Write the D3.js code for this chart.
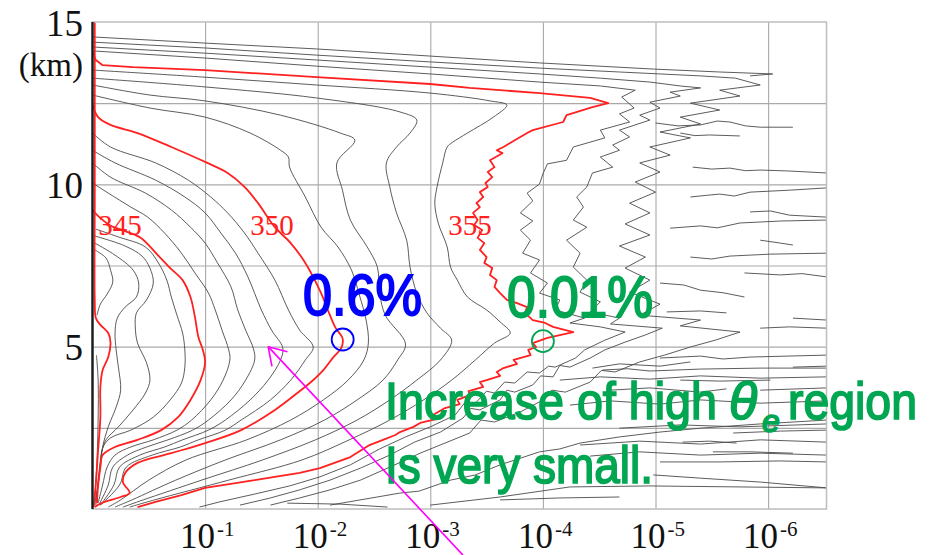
<!DOCTYPE html>
<html>
<head>
<meta charset="utf-8">
<script src="https://cdn.jsdelivr.net/npm/d3@7"></script>
<style>
  body { margin: 0; background: #fff; }
  svg { display: block; }
</style>
</head>
<body>
<svg id="chart" width="935" height="555"></svg>
<script>
// Contours of equivalent potential temperature (K) against cumulative frequency.
// Every point is [decades below 100 % (frequency = 10^-d), height in km].

const c340 = [[0.02,15],[0.02,9.5],[0.02,6.44],[0.03,5.88],[0.07,5.67],[0.14,5.42],[0.16,5.11],[0.14,4.68],[0.09,4.28],[0.07,3.76],[0.07,2.83],[0.05,1.82],[0.03,0.8],[0.01,0.06]];
const c339 = [[0.035,4.74],[0.05,3.97],[0.05,2.74],[0.04,1.51],[0.02,0.28]];
const c341 = [[0.02,7.98],[0.12,7.73],[0.16,7.36],[0.18,6.99],[0.13,6.62],[0.07,6.31],[0.04,5.97]];
const c342 = [[0.02,8.19],[0.2,7.82],[0.36,7.36],[0.41,6.96],[0.39,6.53],[0.29,6.22],[0.22,5.88],[0.2,5.42],[0.21,4.9],[0.23,4.37],[0.25,3.66],[0.21,3.14],[0.14,2.53],[0.09,1.91],[0.07,1.29],[0.05,0.74],[0.03,0.28]];
const c343 = [[0.02,8.41],[0.29,8.1],[0.44,7.79],[0.51,7.42],[0.54,6.96],[0.48,6.44],[0.39,6.04],[0.38,5.61],[0.40,5.11],[0.48,4.5],[0.51,3.97],[0.47,3.57],[0.36,3.05],[0.23,2.53],[0.12,2.13],[0.08,1.72],[0.06,1.2],[0.04,0.59],[0.02,0.12]];
const c344 = [[0.03,8.62],[0.23,8.38],[0.47,8.07],[0.58,7.61],[0.66,7.05],[0.70,6.53],[0.75,5.97],[0.80,5.42],[0.82,4.9],[0.82,4.37],[0.79,3.88],[0.69,3.36],[0.54,2.83],[0.34,2.43],[0.16,2.19],[0.09,1.88],[0.07,1.36],[0.05,0.74],[0.03,0.12]];
const c345 = [[0,9.21],[0.07,8.96],[0.17,8.71],[0.29,8.56],[0.43,8.35],[0.58,7.82],[0.69,7.42],[0.80,7.05],[0.87,6.53],[0.91,5.91],[0.94,5.3],[0.98,4.9],[1.0,4.53],[0.96,3.97],[0.87,3.36],[0.76,2.83],[0.61,2.43],[0.40,2.13],[0.20,1.91],[0.09,1.66],[0.07,1.29],[0.05,0.74],[0.04,0.18]];
const c346 = [[0,10.04],[0.14,9.73],[0.34,9.3],[0.49,8.99],[0.64,8.5],[0.79,7.88],[0.91,7.27],[1.03,6.65],[1.09,6.13],[1.15,5.51],[1.21,4.9],[1.22,4.59],[1.16,3.97],[1.05,3.36],[0.88,2.74],[0.75,2.43],[0.54,2.13],[0.34,1.91],[0.20,1.66],[0.13,1.29],[0.09,0.74],[0.05,0.18]];
const c347 = [[0,10.66],[0.16,10.22],[0.47,9.73],[0.70,9.21],[0.87,8.68],[1.0,8.19],[1.11,7.58],[1.23,6.84],[1.29,6.13],[1.36,5.51],[1.43,4.93],[1.44,4.59],[1.36,3.97],[1.23,3.36],[1.03,2.74],[0.89,2.43],[0.67,2.13],[0.48,1.91],[0.31,1.66],[0.18,1.29],[0.14,0.74],[0.06,0.15]];
const c348 = [[0,11.05],[0.2,10.66],[0.56,10.13],[0.82,9.61],[1.0,9.12],[1.14,8.5],[1.27,7.88],[1.38,7.15],[1.5,6.13],[1.59,5.51],[1.69,4.96],[1.67,4.59],[1.56,3.97],[1.40,3.36],[1.18,2.74],[1.03,2.43],[0.80,2.13],[0.64,1.91],[0.42,1.66],[0.24,1.29],[0.19,0.74],[0.07,0.12]];
const c349 = [[0,11.58],[0.16,11.15],[0.56,10.66],[0.85,10.13],[1.05,9.61],[1.2,9.12],[1.35,8.5],[1.47,7.88],[1.62,7.05],[1.74,6.13],[1.84,5.51],[1.96,4.99],[1.89,4.59],[1.76,3.97],[1.58,3.36],[1.32,2.74],[1.18,2.43],[0.94,2.13],[0.78,1.91],[0.53,1.66],[0.30,1.29],[0.24,0.74],[0.07,0.12]];
const c350 = [[0,12.44],[0.05,12.07],[0.16,11.83],[0.40,11.58],[0.70,11.15],[1.0,10.69],[1.2,10.35],[1.35,9.92],[1.47,9.42],[1.62,8.68],[1.76,8.19],[1.89,7.58],[2.03,6.65],[2.09,6.13],[2.16,5.57],[2.22,5.27],[2.21,4.96],[2.14,4.68],[2.05,4.28],[1.93,3.88],[1.85,3.66],[1.62,3.05],[1.32,2.43],[1.0,2.03],[0.70,1.72],[0.40,1.42],[0.29,1.11],[0.27,0.83],[0.33,0.49],[0.25,0.37],[0.08,0.18],[0.02,0.06]];
const c351 = [[0,12.75],[0.51,12.35],[1.0,12.07],[1.4,11.58],[1.67,11.05],[1.74,10.84],[1.75,10.53],[1.89,9.61],[2.03,8.68],[2.18,8.07],[2.3,7.36],[2.37,6.59],[2.43,5.82],[2.45,5.11],[2.41,4.59],[2.27,3.97],[2.05,3.36],[1.76,2.74],[1.37,2.13],[0.83,1.51],[0.50,0.89],[0.25,0.28],[0.14,0.06]];
const c352 = [[0,13.06],[0.51,12.75],[1.0,12.57],[1.67,12.13],[2.2,11.58],[2.33,11.36],[2.17,10.66],[2.22,9.82],[2.29,8.9],[2.44,8.07],[2.53,7.45],[2.55,6.65],[2.6,5.97],[2.78,5.08],[2.71,4.59],[2.58,3.97],[2.35,3.36],[2.06,2.74],[1.67,2.13],[1.18,1.51],[0.74,0.89],[0.35,0.28],[0.20,0.06]];
const c353 = [[0,13.27],[1.0,13.0],[1.99,12.66],[2.73,12.23],[2.88,11.98],[2.82,11.58],[2.70,11.15],[2.61,10.66],[2.64,9.92],[2.70,9.12],[2.79,8.28],[2.82,7.45],[2.88,6.65],[2.97,6.04],[3.09,5.57],[3.19,5.2],[3.09,4.59],[2.88,3.97],[2.64,3.36],[2.35,2.74],[1.98,2.13],[1.51,1.51],[0.97,0.89],[0.45,0.28],[0.27,0.06]];
const c354 = [[0,13.52],[1.0,13.3],[1.99,13.06],[3.0,12.81],[3.53,12.57],[3.68,12.44],[3.56,12.07],[3.33,11.58],[3.2,11.3],[3.15,11.15],[3.11,10.66],[3.06,9.92],[3.04,9.42],[3.07,8.81],[3.15,8.07],[3.18,7.45],[3.24,7.05],[3.33,6.53],[3.5,6.13],[3.62,5.76],[3.71,5.42],[3.57,5.11],[3.40,4.59],[3.19,3.97],[2.94,3.36],[2.64,2.74],[2.28,2.13],[1.86,1.51],[1.21,0.89],[0.55,0.28],[0.33,0.06]];
const c355 = [[0,14.07],[0.03,13.83],[0.09,13.67],[0.36,13.61],[1.0,13.52],[1.99,13.30],[3.0,13.09],[3.35,12.97],[3.97,12.81],[4.42,12.66],[4.58,12.5],[4.44,12.38],[4.21,12.13],[4.18,11.92],[3.91,11.67],[3.86,11.58],[3.75,11.36],[3.65,11.15],[3.59,11.05],[3.64,10.96],[3.53,10.74],[3.57,10.53],[3.51,10.38],[3.55,10.22],[3.49,10.04],[3.51,9.92],[3.44,9.76],[3.47,9.61],[3.41,9.42],[3.44,9.30],[3.38,9.12],[3.42,8.90],[3.39,8.75],[3.46,8.59],[3.42,8.35],[3.48,8.19],[3.44,7.98],[3.50,7.76],[3.48,7.58],[3.55,7.42],[3.53,7.21],[3.59,7.05],[3.57,6.84],[3.62,6.65],[3.68,6.44],[3.77,6.34],[3.86,6.22],[3.84,6.04],[3.91,5.82],[4.02,5.73],[4.09,5.61],[4.27,5.45],[4.04,5.27],[3.91,5.11],[3.94,4.99],[3.87,4.9],[3.89,4.74],[3.74,4.59],[3.77,4.47],[3.65,4.34],[3.59,4.22],[3.62,4.10],[3.50,3.97],[3.44,3.91],[3.47,3.76],[3.34,3.63],[3.35,3.51],[3.24,3.36],[3.26,3.23],[3.13,3.11],[3.02,2.89],[3.05,2.77],[2.91,2.65],[2.85,2.53],[2.73,2.37],[2.69,2.28],[2.58,2.13],[2.46,1.97],[2.29,1.6],[2.02,1.26],[1.84,1.11],[1.44,0.89],[1.0,0.65],[0.79,0.43],[0.56,0.22],[0.40,0.06]];
const c356 = [[0,14.11],[1.0,13.89],[1.99,13.64],[3.0,13.4],[3.97,13.15],[4.51,13.03],[4.82,12.9],[4.70,12.69],[4.81,12.35],[4.68,12.17],[4.77,11.92],[4.51,11.67],[4.55,11.43],[4.27,11.15],[4.21,10.74],[4.04,10.63],[4.0,10.32],[3.97,10.01],[3.86,9.73],[3.91,9.49],[3.80,9.12],[3.91,8.87],[3.80,8.59],[3.89,8.28],[3.82,7.88],[3.97,7.67],[3.89,7.27],[4.04,6.96],[3.97,6.65],[4.15,6.44],[4.11,6.13],[4.37,5.88],[4.24,5.73],[4.51,5.61],[4.73,5.45],[4.55,5.2],[4.37,4.9],[4.29,4.65],[4.11,4.37],[4.05,4.40],[3.97,4.19],[3.86,4.22],[3.75,3.88],[3.66,3.91],[3.57,3.57],[3.50,3.63],[3.40,3.26],[3.31,3.29],[3.22,2.89],[3.0,2.53],[2.78,2.22],[2.55,1.85],[2.29,1.36],[2.02,0.99],[1.75,0.71],[1.44,0.46],[1.13,0.22],[0.95,0.06]];
const c357 = [[0,14.23],[1.0,14.04],[1.99,13.83],[3.0,13.61],[3.97,13.4],[4.51,13.27],[4.95,13.15],[5.22,13.03],[5.40,12.97],[5.13,12.84],[5.22,12.72],[4.95,12.53],[5.04,12.35],[4.86,12.13],[4.95,11.98],[4.68,11.67],[4.77,11.46],[4.62,11.21],[4.68,11.05],[4.51,10.84],[4.62,10.53],[4.44,10.35],[4.39,9.92],[4.30,9.61],[4.36,9.30],[4.27,8.9],[4.39,8.68],[4.21,8.28],[4.33,7.88],[4.27,7.45],[4.39,7.05],[4.33,6.68],[4.51,6.38],[4.42,6.07],[4.68,5.88],[4.60,5.70],[5.06,5.57],[4.91,5.36],[4.73,5.14],[4.55,4.9],[4.42,4.65],[4.24,4.37],[4.15,4.42],[4.09,4.07],[3.98,4.10],[3.91,3.82],[3.75,3.60],[3.68,3.66],[3.62,3.36],[3.44,3.05],[3.36,3.10],[3.29,2.80],[3.09,2.37],[2.86,2.06],[2.64,1.66],[2.38,1.26],[2.11,0.89],[1.84,0.59],[1.58,0.34],[1.31,0.12]];
const c358 = [[0,14.38],[1.0,14.2],[1.99,13.98],[3.0,13.77],[3.97,13.58],[4.68,13.46],[5.40,13.34],[5.71,13.27],[5.93,13.06],[5.57,12.9],[5.75,12.72],[5.31,12.5],[5.57,12.29],[5.22,12.07],[5.40,11.86],[5.04,11.61],[5.31,11.43],[4.95,11.15],[5.13,10.9],[4.86,10.66],[5.04,10.38],[4.82,10.07],[5.0,9.76],[4.77,9.42],[4.95,9.12],[4.73,8.78],[4.95,8.44],[4.68,8.10],[4.91,7.76],[4.73,7.42],[4.95,7.05],[4.77,6.68],[5.04,6.31],[4.86,5.97],[5.40,5.82],[5.22,5.64],[5.75,5.45],[5.53,5.2],[5.31,4.99],[5.08,4.74],[4.86,4.53],[4.64,4.22],[4.52,4.27],[4.42,3.91],[4.20,3.60],[4.08,3.66],[3.97,3.30],[3.80,2.99],[3.57,2.68],[3.45,2.74],[3.35,2.34],[3.13,2.03],[2.91,1.72],[2.64,1.29],[2.38,0.89],[2.11,0.59],[1.84,0.34],[1.58,0.12]];
const c359 = [[0,14.54],[1.0,14.35],[1.99,14.17],[3.0,13.95],[3.97,13.74],[4.98,13.55],[5.57,13.46],[6.04,13.40],[5.84,13.34]];

// Ragged low-frequency contour pieces
const ragged = [
  [[5.0,11.89],[5.20,11.80],[5.40,11.83],[5.55,11.95],[5.66,11.92],[5.80,11.80],[5.93,11.76],[6.22,11.76]],
  [[5.22,11.58],[5.35,11.50],[5.48,11.52],[5.75,11.49]],
  [[5.33,10.53],[5.50,10.47],[5.66,10.5],[5.80,10.42],[5.93,10.44],[6.19,10.41],[6.52,10.35]],
  [[5.31,9.61],[5.45,9.66],[5.57,9.70],[5.70,9.64],[5.84,9.76],[6.19,9.82],[6.52,9.89]],
  [[5.84,9.15],[6.02,9.18],[6.19,9.05],[6.52,8.99]],
  [[5.13,8.65],[5.40,8.72],[5.55,8.66],[5.75,8.81],[6.11,8.87],[6.52,8.9]],
  [[5.93,8.28],[6.11,8.19],[6.22,8.13]],
  [[5.31,7.76],[5.50,7.70],[5.66,7.79],[6.02,7.85],[6.52,7.88]],
  [[5.79,7.27],[6.11,7.21],[6.30,7.25],[6.52,7.15]],
  [[5.04,6.96],[5.25,6.90],[5.40,6.74],[5.60,6.66],[5.79,6.53]],
  [[5.10,6.07],[5.40,6.10],[5.63,6.04]],
  [[6.22,5.88],[6.52,5.82]],
  [[5.93,5.57],[6.19,5.61],[6.52,5.57]],
  [[5.04,4.65],[5.40,4.71],[5.60,4.62],[5.84,4.68],[6.52,4.74]],
  [[4.53,4.28],[4.75,4.32],[4.95,4.25],[5.40,4.31],[5.93,4.34],[6.52,4.34]],
  [[4.44,4.34],[4.68,4.47],[5.04,4.40],[5.31,4.53]],
  [[6.22,4.37],[6.52,4.40]],
  [[4.15,3.97],[4.51,4.07],[4.95,4.0],[5.40,4.10],[5.93,4.03],[6.52,4.07]],
  [[5.22,3.97],[5.57,3.94],[6.02,3.97]],
  [[4.60,3.66],[4.95,3.73],[5.40,3.60],[5.63,3.70]],
  [[5.93,3.66],[6.52,3.73]],
  [[4.24,3.20],[4.60,3.33],[5.04,3.23],[5.40,3.36],[5.93,3.26],[6.52,3.33]],
  [[4.68,2.49],[5.22,2.59],[5.75,2.53],[6.52,2.62]],
  [[5.69,2.34],[6.11,2.40],[6.52,2.43]],
  [[5.24,2.06],[5.48,2.09],[5.72,2.03]],
  [[4.33,1.97],[4.86,2.09],[5.40,2.0],[5.93,2.13],[6.52,2.06]],
  [[5.51,1.76],[5.84,1.76],[6.22,1.72]],
  [[4.42,1.63],[4.86,1.76],[5.40,1.66],[5.93,1.72],[6.52,1.66]],
  [[5.04,1.45],[5.57,1.45],[6.11,1.48],[6.52,1.45]],
  [[4.98,1.05],[5.40,0.95],[5.93,0.83],[6.52,0.65]],
  [[2.11,0.12],[2.73,0.49],[2.90,0.55],[3.18,0.89],[3.40,1.05],[3.62,1.36],[3.97,1.76],[4.15,1.85],[4.33,2.03],[4.68,2.22],[5.04,2.37],[5.40,2.49],[5.93,2.62],[6.52,2.74]],
  [[3.0,0.12],[3.62,0.37],[4.24,0.68],[4.95,0.71],[5.75,0.68],[6.52,0.65]],
  [[3.62,0.28],[4.15,0.34],[4.68,0.37]],
  [[1.73,0.18],[2.2,0.15],[2.62,0.06]]
];

const redContours = [c340, c345, c350, c355];
const grayContours = [c339, c341, c342, c343, c344, c346, c347, c348, c349, c351, c352, c353, c354];
const raggedContours = [c356, c357, c358, c359, ...ragged];

const contourLabels = ["345", "350", "355"];
const contourLabelDecades = [0.05, 1.40, 3.16];
const contourLabelHeight = 8.44;

const xGrid = [1e-1, 1e-2, 1e-3, 1e-4, 1e-5, 1e-6];
const xTickExponents = ["-1", "-2", "-3", "-4", "-5", "-6"];
const yGrid = [2.5, 5, 7.5, 10, 12.5];
const yTickLabels = [5, 10, 15];

// Highlighted frequencies near 5 km
const marks = [
  { freq: 0.006, km: 5.22, text: "0.6%", color: "#0000ff" },
  { freq: 0.0001, km: 5.17, text: "0.01%", color: "#00a651" }
];

const X0 = 92.5, X1 = 826.5, Y0 = 22, Y1 = 509;
const svg = d3.select("#chart");

const x = d3.scaleLog().domain([1, 3.03e-7]).range([X0, X1]);
const y = d3.scaleLinear().domain([0, 15]).range([Y1, Y0]);
const px = d => x(Math.pow(10, -d));

svg.append("defs").append("clipPath").attr("id", "plot")
  .append("rect").attr("x", X0).attr("y", Y0).attr("width", X1 - X0).attr("height", Y1 - Y0);

// grid
const gx = svg.append("g").attr("transform", `translate(0,${Y1})`)
  .call(d3.axisBottom(x).tickValues(xGrid).tickSize(-(Y1 - Y0)).tickFormat(""));
const gy = svg.append("g").attr("transform", `translate(${X0},0)`)
  .call(d3.axisLeft(y).tickValues(yGrid).tickSize(-(X1 - X0)).tickFormat(""));
[gx, gy].forEach(g => {
  g.select(".domain").remove();
  g.selectAll("line").attr("stroke", "#a9a9a9").attr("stroke-width", 1.1);
});

const plot = svg.append("g").attr("clip-path", "url(#plot)");

const smooth = d3.line().x(p => px(p[0])).y(p => y(p[1])).curve(d3.curveCatmullRom.alpha(0.5));
const jagged = d3.line().x(p => px(p[0])).y(p => y(p[1]));

plot.selectAll(".ragged").data(raggedContours).join("path")
  .attr("d", jagged).attr("fill", "none")
  .attr("stroke", "#4a4a4a").attr("stroke-width", 0.9).attr("stroke-linejoin", "round");

plot.selectAll(".gray").data(grayContours).join("path")
  .attr("d", smooth).attr("fill", "none")
  .attr("stroke", "#4a4a4a").attr("stroke-width", 0.9);

plot.selectAll(".red").data(redContours).join("path")
  .attr("d", (c, i) => i === 3 ? jagged(c) : smooth(c)).attr("fill", "none")
  .attr("stroke", "#ff2020").attr("stroke-width", 1.8).attr("stroke-linejoin", "round");

// frame
svg.append("rect").attr("x", X0).attr("y", Y0).attr("width", X1 - X0).attr("height", Y1 - Y0)
  .attr("fill", "none").attr("stroke", "#bdbdbd").attr("stroke-width", 1.5);
svg.append("line").attr("x1", X0).attr("x2", X0).attr("y1", Y0).attr("y2", Y1)
  .attr("stroke", "#1a1a1a").attr("stroke-width", 2.4);

// contour labels
const serif = "'Liberation Serif', 'Times New Roman', serif";
svg.selectAll(".clab").data(contourLabels).join("text")
  .attr("x", (t, i) => px(contourLabelDecades[i])).attr("y", y(contourLabelHeight))
  .attr("font-family", serif).attr("font-size", 29).attr("fill", "#ff2020").text(t => t);

// y tick labels
svg.selectAll(".ylab").data(yTickLabels).join("text")
  .attr("x", 83).attr("y", v => y(v) + 13.5).attr("text-anchor", "end")
  .attr("font-family", serif).attr("font-size", 37).attr("fill", "#111").text(v => v);
svg.append("text").attr("x", 83).attr("y", 76).attr("text-anchor", "end")
  .attr("font-family", serif).attr("font-size", 33).attr("fill", "#111").text("(km)");

// x tick labels: 10 with a superscript exponent
const xl = svg.selectAll(".xlab").data(xGrid).join("g");
xl.append("text").attr("x", v => x(v) - 25).attr("y", 548)
  .attr("font-family", serif).attr("font-size", 35).attr("fill", "#111").text("10");
xl.append("text").attr("x", v => x(v) + 12).attr("y", 536)
  .attr("font-family", serif).attr("font-size", 21).attr("fill", "#111")
  .text((v, i) => xTickExponents[i]);

// highlighted points
svg.selectAll(".mark").data(marks).join("circle")
  .attr("cx", m => x(m.freq)).attr("cy", m => y(m.km)).attr("r", 11)
  .attr("fill", "none").attr("stroke", m => m.color).attr("stroke-width", 1.8);

const sans = "'Liberation Sans', Arial, sans-serif";
svg.selectAll(".mtext").data(marks).join("text")
  .attr("x", (m, i) => i === 0 ? 303 : 507).attr("y", (m, i) => i === 0 ? 315 : 317)
  .attr("font-family", sans).attr("font-size", 58)
  .attr("fill", m => m.color).attr("stroke", m => m.color).attr("stroke-width", 2)
  .attr("textLength", (m, i) => i === 0 ? 119 : 146).attr("lengthAdjust", "spacingAndGlyphs")
  .text(m => m.text);

// note in green
const green = "#00a651";
const note = svg.append("g").attr("fill", green).attr("stroke", green).attr("stroke-width", 1.7)
  .attr("font-family", sans);
note.append("text").attr("x", 385).attr("y", 419).attr("font-size", 52)
  .attr("textLength", 332).attr("lengthAdjust", "spacingAndGlyphs").text("Increase of high");
note.append("text").attr("x", 729).attr("y", 419).attr("font-size", 52)
  .attr("font-style", "italic").text("θ");
note.append("text").attr("x", 762).attr("y", 432).attr("font-size", 32)
  .attr("font-style", "italic").text("e");
note.append("text").attr("x", 788).attr("y", 419).attr("font-size", 52)
  .attr("textLength", 129).attr("lengthAdjust", "spacingAndGlyphs").text("region");
note.append("text").attr("x", 385).attr("y", 483).attr("font-size", 52)
  .attr("textLength", 268).attr("lengthAdjust", "spacingAndGlyphs").text("Is very small.");

// arrow pointing at the 5 km bend
const arrowTail = [3.29, -1.42], arrowTip = [1.56, 5.0];
const tx = px(arrowTail[0]), ty = y(arrowTail[1]), hx = px(arrowTip[0]), hy = y(arrowTip[1]);
const ang = Math.atan2(ty - hy, tx - hx);
const arrow = svg.append("g").attr("stroke", "#ff00ff").attr("stroke-width", 1.6).attr("fill", "none");
arrow.append("line").attr("x1", tx).attr("y1", ty).attr("x2", hx).attr("y2", hy);
[-0.56, 0.56].forEach(a => {
  arrow.append("line").attr("x1", hx).attr("y1", hy)
    .attr("x2", hx + 20 * Math.cos(ang + a)).attr("y2", hy + 20 * Math.sin(ang + a));
});
</script>
</body>
</html>
